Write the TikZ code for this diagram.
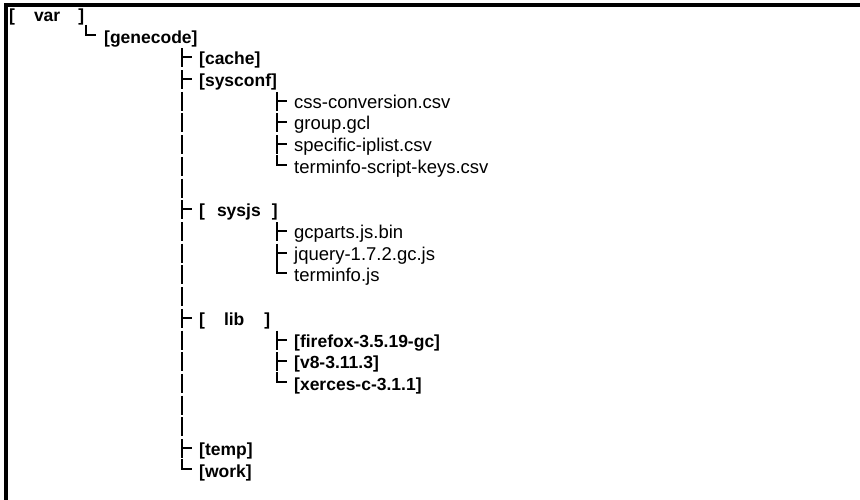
\documentclass[tikz,border=0pt]{standalone}
\usepackage{fontspec}
\setmainfont{Liberation Sans}
\usetikzlibrary{positioning}
\tikzset{
  dir/.style={font=\fontsize{17.5}{20}\selectfont\bfseries, anchor=base west, inner sep=0pt},
  file/.style={font=\fontsize{18.5}{20}\selectfont, anchor=base west, inner sep=0pt},
  glyph/.style={line width=2pt, line cap=butt},
  frame/.style={line width=4pt, line join=miter}
}
\newcommand{\gap}[1]{\hspace*{#1pt}}
\begin{document}
\begin{tikzpicture}[x=1pt, y=-1pt]
        \useasboundingbox (0,0) rectangle (860,500);
        \draw[frame] (6,500) -- (6,5) -- (860,5);
        \def\pitch{21.7}
        \foreach \name/\col/\row/\kind/\txt in {
          var/9/0/dir/{[\gap{19}var\gap{18}]},
          genecode/104/1/dir/{[genecode]},
          cache/199/2/dir/{[cache]},
          sysconf/199/3/dir/{[sysconf]},
          css/294/4/file/{css-conversion.csv},
          group/294/5/file/{group.gcl},
          iplist/294/6/file/{specific-iplist.csv},
          keys/294/7/file/{terminfo-script-keys.csv},
          sysjs/199/9/dir/{[\gap{12}sysjs\gap{11}]},
          gcparts/294/10/file/{gcparts.js.bin},
          jquery/294/11/file/{jquery-1.7.2.gc.js},
          terminfojs/294/12/file/{terminfo.js},
          lib/199/14/dir/{[\gap{19}lib\gap{20}]},
          firefox/294/15/dir/{[firefox-3.5.19-gc]},
          veight/294/16/dir/{[v8-3.11.3]},
          xerces/294/17/dir/{[xerces-c-3.1.1]},
          temp/199/20/dir/{[temp]},
          work/199/21/dir/{[work]}}{
          \node[\kind] (\name) at (\col, {21.5 + \pitch*\row}) {\txt};
        }
        \foreach \col/\row in {182/2, 182/3, 182/9, 182/14, 182/20,
                               277/4, 277/5, 277/6, 277/10, 277/11, 277/15, 277/16}{
          \pgfmathsetmacro\yc{16 + \pitch*\row}
          \draw[glyph] (\col, \yc - 11) -- (\col, \yc + 8);
          \draw[glyph] (\col, \yc - 2) -- (\col + 10, \yc - 2);
        }
        \foreach \col/\row in {86/1, 182/21, 277/7, 277/12, 277/17}{
          \pgfmathsetmacro\yc{16 + \pitch*\row}
          \draw[glyph] (\col, \yc - 13) -- (\col, \yc - 3) -- (\col + 10, \yc - 3);
        }
        \foreach \row in {4, 5, 6, 7, 8, 10, 11, 12, 13, 15, 16, 17, 18, 19}{
          \pgfmathsetmacro\yc{16 + \pitch*\row}
          \draw[glyph] (182, \yc - 11) -- (182, \yc + 8);
        }
      \end{tikzpicture}
\end{document}
